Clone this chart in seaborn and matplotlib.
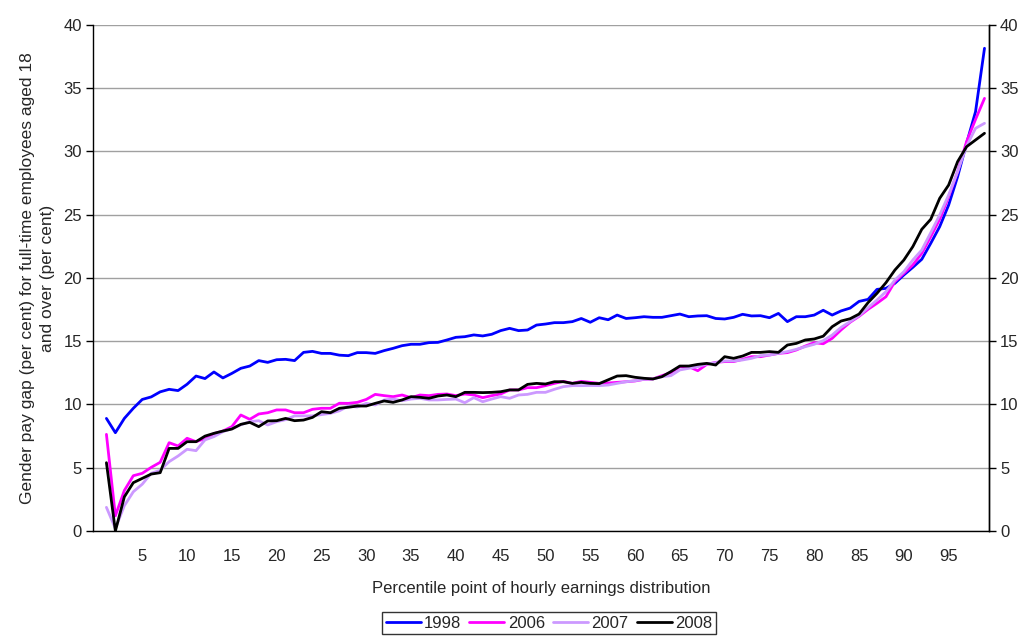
import numpy as np
import pandas as pd
import matplotlib
matplotlib.use("Agg")
import matplotlib.pyplot as plt
import seaborn as sns

# Percentile points of the hourly earnings distribution
percentiles = list(range(1, 100))

gap_1998 = [8.9, 7.77, 8.9, 9.7, 10.4, 10.6, 11.0, 11.2, 11.1, 11.6,
            12.25, 12.05, 12.57, 12.1, 12.46, 12.86, 13.04, 13.47, 13.33, 13.54,
            13.57, 13.47, 14.12, 14.2, 14.04, 14.04, 13.9, 13.86, 14.1, 14.1,
            14.04, 14.26, 14.44, 14.65, 14.76, 14.76, 14.89, 14.91, 15.1, 15.31,
            15.36, 15.5, 15.42, 15.55, 15.84, 16.02, 15.84, 15.89, 16.28, 16.36,
            16.47, 16.47, 16.55, 16.8, 16.5, 16.86, 16.7, 17.07, 16.8, 16.86,
            16.94, 16.89, 16.89, 17.02, 17.15, 16.94, 17.0, 17.02, 16.8, 16.76,
            16.89, 17.13, 17.0, 17.02, 16.86, 17.2, 16.55, 16.94, 16.94, 17.07,
            17.45, 17.07, 17.4, 17.62, 18.15, 18.31, 19.1, 19.18, 19.58, 20.24,
            20.84, 21.48, 22.74, 24.06, 25.77, 28.01, 30.65, 33.15, 38.16]

gap_2006 = [7.64, 1.2, 3.2, 4.37, 4.56, 5.03, 5.43, 6.98, 6.72, 7.33,
            7.06, 7.3, 7.7, 7.9, 8.25, 9.17, 8.83, 9.25, 9.35, 9.57,
            9.57, 9.35, 9.35, 9.62, 9.7, 9.7, 10.1, 10.09, 10.17, 10.4,
            10.8, 10.7, 10.62, 10.75, 10.54, 10.75, 10.7, 10.8, 10.83, 10.7,
            10.83, 10.75, 10.54, 10.7, 10.83, 11.15, 11.15, 11.33, 11.33, 11.49,
            11.67, 11.83, 11.67, 11.83, 11.75, 11.67, 11.7, 11.75, 11.8, 11.86,
            11.99, 12.02, 12.28, 12.52, 12.99, 12.99, 12.67, 13.17, 13.33, 13.39,
            13.39, 13.57, 13.78, 13.78, 13.91, 14.04, 14.1, 14.31, 14.62, 14.89,
            14.8, 15.23, 15.9, 16.5, 16.97, 17.52, 18.0, 18.52, 19.71, 20.37,
            21.03, 21.95, 23.27, 24.64, 26.43, 28.41, 30.78, 32.54, 34.2]

gap_2007 = [1.87, 0.2, 2.0, 3.1, 3.7, 4.56, 4.8, 5.48, 5.93, 6.46,
            6.35, 7.2, 7.46, 7.85, 8.1, 8.4, 8.64, 8.72, 8.38, 8.64,
            8.8, 9.1, 9.1, 9.1, 9.2, 9.3, 9.5, 9.88, 9.8, 10.09,
            9.96, 10.36, 10.43, 10.3, 10.43, 10.49, 10.36, 10.36, 10.4, 10.43,
            10.14, 10.54, 10.22, 10.43, 10.62, 10.49, 10.75, 10.8, 10.96, 10.96,
            11.2, 11.41, 11.49, 11.49, 11.5, 11.49, 11.54, 11.67, 11.8, 11.88,
            11.99, 12.02, 12.2, 12.28, 12.73, 12.86, 12.99, 13.2, 13.31, 13.44,
            13.44, 13.52, 13.65, 13.86, 13.91, 14.04, 14.18, 14.36, 14.57, 14.76,
            15.05, 15.49, 16.1, 16.55, 17.02, 17.65, 18.26, 18.92, 19.84, 20.5,
            21.42, 22.21, 23.58, 24.98, 26.56, 28.41, 30.43, 31.83, 32.23]

gap_2008 = [5.4, 0.0, 2.7, 3.82, 4.16, 4.5, 4.61, 6.53, 6.53, 7.06,
            7.06, 7.5, 7.72, 7.9, 8.06, 8.43, 8.59, 8.25, 8.7, 8.72,
            8.9, 8.72, 8.77, 8.98, 9.43, 9.35, 9.7, 9.78, 9.88, 9.88,
            10.09, 10.28, 10.17, 10.36, 10.62, 10.57, 10.49, 10.67, 10.75, 10.62,
            10.96, 10.96, 10.94, 10.96, 11.01, 11.15, 11.15, 11.59, 11.67, 11.62,
            11.8, 11.8, 11.67, 11.75, 11.67, 11.65, 11.95, 12.25, 12.28, 12.15,
            12.07, 12.02, 12.2, 12.6, 13.04, 13.04, 13.17, 13.25, 13.12, 13.78,
            13.65, 13.83, 14.12, 14.12, 14.18, 14.12, 14.7, 14.83, 15.1, 15.18,
            15.4, 16.15, 16.6, 16.78, 17.15, 18.05, 18.79, 19.63, 20.63, 21.42,
            22.48, 23.85, 24.64, 26.3, 27.35, 29.2, 30.38, 30.91, 31.44]

years = ["1998", "2006", "2007", "2008"]
series = [gap_1998, gap_2006, gap_2007, gap_2008]
colors = {"1998": "#0000FF", "2006": "#FF00FF", "2007": "#CC99FF", "2008": "#000000"}

frames = [pd.DataFrame({"percentile": percentiles, "gap": vals, "year": yr})
          for yr, vals in zip(years, series)]
df = pd.concat(frames, ignore_index=True)

sns.set_style("white")
plt.rcParams["font.family"] = ["Liberation Sans", "DejaVu Sans"]

fig = plt.figure(figsize=(10.24, 6.36), dpi=100)
ax = fig.add_axes([0.0908, 0.1651, 0.875, 0.7956])

sns.lineplot(data=df, x="percentile", y="gap", hue="year", hue_order=years,
             palette=colors, linewidth=2.0, sort=False, estimator=None,
             legend=False, ax=ax)

ax.set_xlim(-0.5, 99.5)
ax.set_ylim(0, 40)

# Category-style x axis: tick marks on boundaries, labels at multiples of 5
ax.set_xticks(np.arange(-0.5, 100, 5))
ax.set_xticklabels([])
ax.set_xticks(np.arange(5, 100, 5), minor=True)
ax.set_xticklabels([str(v) for v in range(5, 100, 5)], minor=True)
ax.tick_params(axis="x", which="major", direction="out", length=4, width=1, color="black")
ax.tick_params(axis="x", which="minor", length=0, labelsize=12, pad=13)

ax.set_yticks(np.arange(0, 41, 5))
ax.tick_params(axis="y", direction="out", length=5, width=1, color="black", labelsize=12, pad=3)

ax.yaxis.grid(True, color="#A0A0A0", linewidth=1.0)
ax.set_axisbelow(True)

for side in ["left", "bottom", "right"]:
    ax.spines[side].set_visible(True)
    ax.spines[side].set_color("black")
    ax.spines[side].set_linewidth(1.0)
ax.spines["top"].set_visible(False)

ax2 = ax.twinx()
ax2.set_ylim(0, 40)
ax2.set_yticks(np.arange(0, 41, 5))
ax2.tick_params(axis="y", direction="out", length=5, width=1, color="black", labelsize=12, pad=3)
for side in ["top", "left", "bottom"]:
    ax2.spines[side].set_visible(False)
ax2.spines["right"].set_color("black")
ax2.spines["right"].set_linewidth(1.0)
ax2.grid(False)

ax.set_xlabel("Percentile point of hourly earnings distribution", fontsize=12, labelpad=12)
ax.set_ylabel("Gender pay gap (per cent) for full-time employees aged 18\nand over (per cent)",
              fontsize=12.5, labelpad=6, linespacing=1.45)

handles = [plt.Line2D([], [], color=colors[y], linewidth=2.0) for y in years]
leg = fig.legend(handles, years, loc="center", bbox_to_anchor=(549 / 1024, 1 - 623 / 636),
                 ncol=4, fontsize=12, frameon=True, fancybox=False, handlelength=2.1,
                 handletextpad=0.2, columnspacing=0.5, borderpad=0.2, borderaxespad=0)
leg.get_frame().set_edgecolor("black")
leg.get_frame().set_linewidth(1.0)

fig.savefig("out.png", dpi=100, facecolor="white")
